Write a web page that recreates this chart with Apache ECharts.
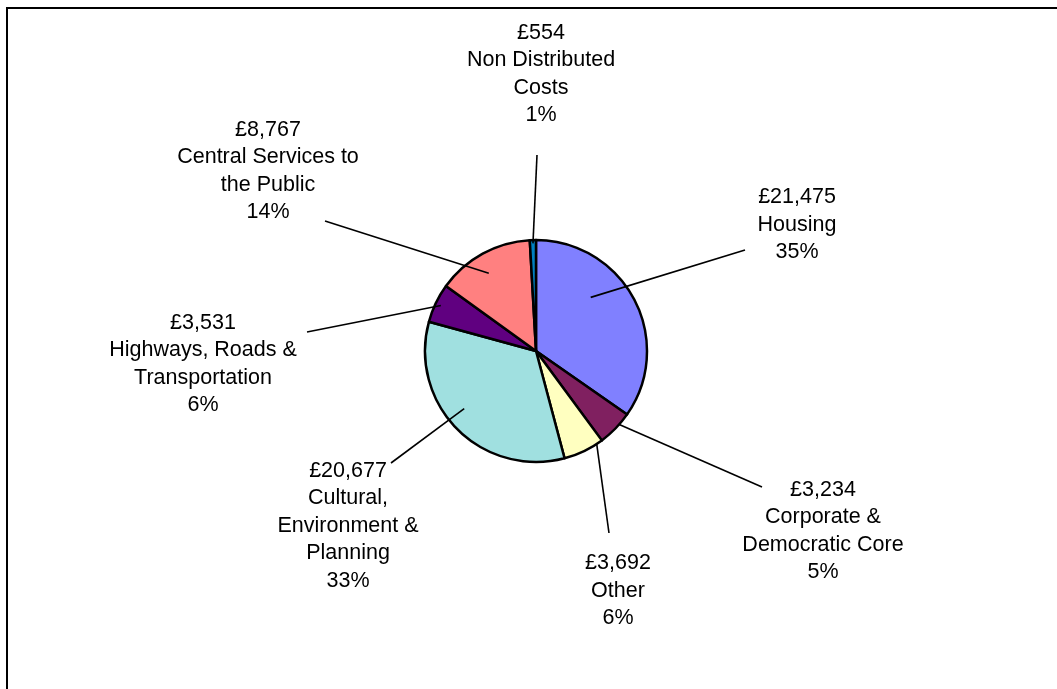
<!DOCTYPE html>
<html>
<head>
<meta charset="utf-8">
<script src="https://cdn.jsdelivr.net/npm/echarts@6/dist/echarts.min.js"></script>
<style>
  html, body { margin: 0; padding: 0; background: #fff; }
  #frame { position: absolute; left: 6px; top: 7px; width: 1100px; height: 700px;
           border-left: 2px solid #000; border-top: 2px solid #000; }
  #chart { position: absolute; left: 0; top: 0; width: 1057px; height: 689px; }
</style>
</head>
<body>
<div id="frame"></div>
<div id="chart"></div>
<script>
// ---- Data ----
const categories = ['Housing', 'Corporate & Democratic Core', 'Other',
  'Cultural, Environment & Planning', 'Highways, Roads & Transportation',
  'Central Services to the Public', 'Non Distributed Costs'];
const labelNames = ['Housing', 'Corporate &\nDemocratic Core', 'Other',
  'Cultural,\nEnvironment &\nPlanning', 'Highways, Roads &\nTransportation',
  'Central Services to\nthe Public', 'Non Distributed\nCosts'];
const values = [21475, 3234, 3692, 20677, 3531, 8767, 554];
const colors = ['#8080FF', '#802060', '#FFFFC0', '#A0E0E0', '#600080', '#FF8080', '#0080C0'];

// ---- Layout (positions, not data) ----
const CX = 536, CY = 351, R = 111;
const labelPos = [[797, 225], [823, 531], [618, 591], [348, 526], [203, 364], [268, 171], [541, 74]];
const lineEnd = [[745, 250], [762, 487], [609, 533], [391, 463], [307, 332], [325, 221], [537, 155]];
const anchorR = [0.69, 1.0, 1.0, 0.83, 0.95, 0.82, 0.97];
const anchorA = [0.365, 0.35, 0.15, 0.55, 0.5, 0.45, 0.5];

const total = values.reduce((a, b) => a + b, 0);
const starts = [];
let acc = 0;
values.forEach(v => { starts.push(acc); acc += v; });

function anchorPoint(i) {
  const frac = (starts[i] + values[i] * anchorA[i]) / total;
  const th = frac * 2 * Math.PI;
  const r = R * anchorR[i];
  return [CX + r * Math.sin(th), CY - r * Math.cos(th)];
}

const pieData = categories.map((c, i) => ({ name: c, value: values[i], itemStyle: { color: colors[i] } }));
const labelData = categories.map((c, i) => ({ name: c, value: values[i] }));

const chart = echarts.init(document.getElementById('chart'), null, { renderer: 'canvas' });
chart.setOption({
  animation: false,
  backgroundColor: 'transparent',
  series: [{
    type: 'pie',
    z: 2,
    center: [CX, CY],
    radius: R,
    startAngle: 90,
    clockwise: true,
    data: pieData,
    itemStyle: { borderColor: '#000', borderWidth: 2.5 },
    emphasis: { disabled: true },
    label: { show: false },
    labelLine: { show: false }
  }, {
    // overlay: same slices, invisible fill, carries labels and leader lines drawn above the pie
    type: 'pie',
    z: 5,
    silent: true,
    center: [CX, CY],
    radius: R,
    startAngle: 90,
    clockwise: true,
    avoidLabelOverlap: false,
    data: labelData,
    itemStyle: { color: 'rgba(0,0,0,0)', borderColor: 'rgba(0,0,0,0)', borderWidth: 0 },
    emphasis: { disabled: true },
    label: {
      show: true,
      position: 'outside',
      fontFamily: 'Liberation Sans, Arial, sans-serif',
      fontSize: 21.5,
      lineHeight: 27.5,
      color: '#000',
      align: 'center',
      formatter: p => '£' + p.value.toLocaleString('en-GB') + '\n' + labelNames[p.dataIndex] + '\n' + Math.round(p.percent) + '%'
    },
    labelLine: { show: true, lineStyle: { color: '#000', width: 1.6 } },
    labelLayout: function (params) {
      const i = params.dataIndex;
      return {
        x: labelPos[i][0],
        y: labelPos[i][1],
        align: 'center',
        verticalAlign: 'middle',
        labelLinePoints: [anchorPoint(i), lineEnd[i]]
      };
    }
  }]
});
</script>
</body>
</html>
